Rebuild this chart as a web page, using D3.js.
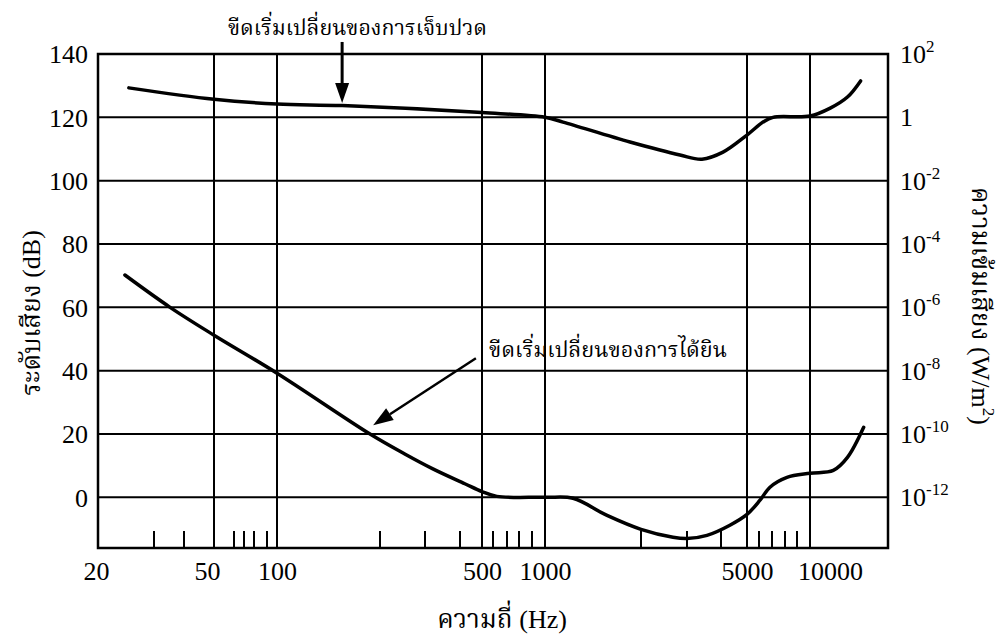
<!DOCTYPE html>
<html lang="th">
<head>
  <meta charset="UTF-8">
  <title>Threshold of hearing and pain</title>
  <script src="https://d3js.org/d3.v7.min.js"></script>
  <style>
    body, html { margin: 0; padding: 0; background: #fff; overflow: hidden; }
    svg { display: block; font-family: "Liberation Serif", "Noto Serif Thai", "Noto Sans Thai", serif; }
    .grid line { stroke: #000; stroke-width: 2; }
    .tick text { fill: #000; }
    .curve { fill: none; stroke: #000; stroke-width: 3.5; stroke-linecap: round; }
  </style>
</head>
<body>
  <svg id="chart" width="1002" height="637"></svg>
  <script>
    // Data (frequency in Hz, level in dB)
    const painFreq  = [25, 50, 100, 155, 500, 1000, 1139, 1847, 2820, 3405, 4069, 5000, 6293, 7072, 10000, 11970, 13950, 15680];
    const painDb    = [129.3, 125.7, 124.2, 123.7, 121.5, 120, 118.5, 112.2, 108.1, 106.8, 109, 114.4, 118.5, 120, 120.4, 122.9, 126.4, 131.5];
    const hearFreq  = [24.3, 35, 50, 100, 187, 250, 320, 420, 500, 626, 1000, 1224, 1565, 2000, 2652, 3000, 3553, 4317, 5000, 6071, 6833, 8158, 10000, 12300, 13950, 16110];
    const hearDb    = [70.2, 60, 51.2, 39.2, 20, 13.7, 9.0, 4.3, 1.8, 0.3, 0, -0.3, -5.7, -10.1, -12.6, -13, -12, -8.8, -5.4, -0.9, 3.2, 6.3, 7.6, 8.5, 12.6, 22.1];

    // Axis ticks
    const dbTicks      = [0, 20, 40, 60, 80, 100, 120, 140];
    const freqLabels   = [20, 50, 100, 500, 1000, 5000, 10000];
    const minorTicks   = [30, 40, 60, 70, 80, 90, 200, 300, 400, 600, 700, 800, 900, 2000, 3000, 4000, 6000, 7000, 8000, 9000];
    const intensityExp = [-12, -10, -8, -6, -4, -2, 0, 2];

    // Text
    const yTitle = "ระดับเสียง (dB)";
    const xTitle = "ความถี่ (Hz)";
    const rTitle = "ความเข้มเสียง (W/m";
    const painLabel = "ขีดเริ่มเปลี่ยนของการเจ็บปวด";
    const hearLabel = "ขีดเริ่มเปลี่ยนของการได้ยิน";

    // The printed frequency axis is hand drawn, so the log scale is calibrated piecewise
    const xCalDomain = [20, 30, 40, 50, 60, 70, 80, 90, 100, 200, 300, 400, 500, 600, 700, 800, 900, 1000, 2000, 3000, 4000, 5000, 6000, 7000, 8000, 9000, 10000, 20000];
    const xCalRange  = [98, 154, 184, 214, 234, 244, 254, 267, 277, 380, 425, 460, 482, 493, 507, 519, 532, 545, 641, 687, 721, 747, 759, 772, 785, 797, 810, 888];

    const svg = d3.select('#chart');
    const plotL = 98, plotR = 888, plotT = 54, plotB = 548;

    const x = d3.scaleLog().domain(xCalDomain).range(xCalRange);
    const y = d3.scaleLinear().domain([-16, 140]).range([plotB, plotT]);
    // dB -> intensity (W/m^2), I = 10^(dB/10 - 12)
    const yI = d3.scaleLog().domain([Math.pow(10, -16 / 10 - 12), 100]).range([plotB, plotT]);

    // Grid
    const grid = svg.append('g').attr('class', 'grid');
    grid.selectAll('line.h').data(dbTicks).enter().append('line')
      .attr('x1', plotL).attr('x2', plotR)
      .attr('y1', d => y(d)).attr('y2', d => y(d));
    grid.selectAll('line.v').data(freqLabels.slice(1)).enter().append('line')
      .attr('y1', plotT).attr('y2', plotB)
      .attr('x1', d => x(d)).attr('x2', d => x(d));
    grid.selectAll('line.m').data(minorTicks).enter().append('line')
      .attr('y1', plotB - 17).attr('y2', plotB)
      .attr('x1', d => x(d)).attr('x2', d => x(d));
    svg.append('rect')
      .attr('x', plotL).attr('y', plotT)
      .attr('width', plotR - plotL).attr('height', plotB - plotT)
      .attr('fill', 'none').attr('stroke', '#000').attr('stroke-width', 2.5);

    // Left axis labels
    const yAxis = svg.append('g')
      .attr('transform', `translate(${plotL},0)`)
      .call(d3.axisLeft(y).tickValues(dbTicks).tickSize(0).tickPadding(10));
    yAxis.select('.domain').remove();
    yAxis.selectAll('text').attr('font-size', 26).attr('font-family', 'Liberation Serif').attr('dy', '0.34em');

    // Bottom axis labels (the printed 50 and 10000 sit a little off their lines)
    const xAxis = svg.append('g')
      .attr('transform', `translate(0,${plotB})`)
      .call(d3.axisBottom(x).tickValues(freqLabels).tickFormat(d3.format('d')).tickSize(0).tickPadding(14));
    xAxis.select('.domain').remove();
    xAxis.selectAll('text').attr('font-size', 26).attr('font-family', 'Liberation Serif')
      .attr('dx', d => d === 50 ? -7 : d === 10000 ? 20 : d === 20 ? -2 : 0);

    // Right axis labels (intensity)
    const rLab = svg.append('g').selectAll('text').data(intensityExp).enter().append('text')
      .attr('x', 900)
      .attr('y', d => yI(Math.pow(10, d)) + 9)
      .attr('font-size', 26).attr('font-family', 'Liberation Serif');
    rLab.append('tspan').text(d => d === 0 ? '1' : '10');
    rLab.filter(d => d !== 0).append('tspan')
      .attr('font-size', 17).attr('dy', -11)
      .text(d => d);

    // Axis titles
    svg.append('text')
      .attr('transform', 'translate(40,313) rotate(-90)')
      .attr('text-anchor', 'middle').attr('font-size', 26)
      .text(yTitle);
    svg.append('text')
      .attr('x', 502).attr('y', 628)
      .attr('text-anchor', 'middle').attr('font-size', 26)
      .text(xTitle);
    const rt = svg.append('text')
      .attr('transform', 'translate(972,306) rotate(90)')
      .attr('text-anchor', 'middle').attr('font-size', 26);
    rt.append('tspan').text(rTitle);
    rt.append('tspan').attr('font-size', 17).attr('dy', -11).text('2');
    rt.append('tspan').attr('dy', 11).text(')');

    // Curves
    const line = d3.line()
      .x(d => x(d[0])).y(d => y(d[1]))
      .curve(d3.curveCatmullRom.alpha(0.5));
    svg.append('path').attr('class', 'curve')
      .attr('d', line(d3.zip(painFreq, painDb)));
    svg.append('path').attr('class', 'curve')
      .attr('d', line(d3.zip(hearFreq, hearDb)));

    // Annotations with arrows
    function arrow(f0, d0, f1, d1, w) {
      const x0 = x(f0), y0 = y(d0), x1 = x(f1), y1 = y(d1);
      const a = Math.atan2(y1 - y0, x1 - x0);
      const len = 20, half = 7;
      const bx = x1 - len * Math.cos(a), by = y1 - len * Math.sin(a);
      svg.append('line')
        .attr('x1', x0).attr('y1', y0).attr('x2', bx).attr('y2', by)
        .attr('stroke', '#000').attr('stroke-width', w);
      svg.append('path')
        .attr('d', `M${x1},${y1}L${bx - half * Math.sin(a)},${by + half * Math.cos(a)}L${bx + half * Math.sin(a)},${by - half * Math.cos(a)}Z`)
        .attr('fill', '#000');
    }
    arrow(155, 143.8, 155, 124.5, 3);
    arrow(470, 43.9, 191, 22.8, 2.5);

    svg.append('text')
      .attr('x', 228).attr('y', 35)
      .attr('font-size', 22)
      .attr('textLength', 259).attr('lengthAdjust', 'spacingAndGlyphs')
      .text(painLabel);
    svg.append('text')
      .attr('x', 489).attr('y', 357)
      .attr('font-size', 22)
      .attr('textLength', 238).attr('lengthAdjust', 'spacingAndGlyphs')
      .text(hearLabel);
  </script>
</body>
</html>
